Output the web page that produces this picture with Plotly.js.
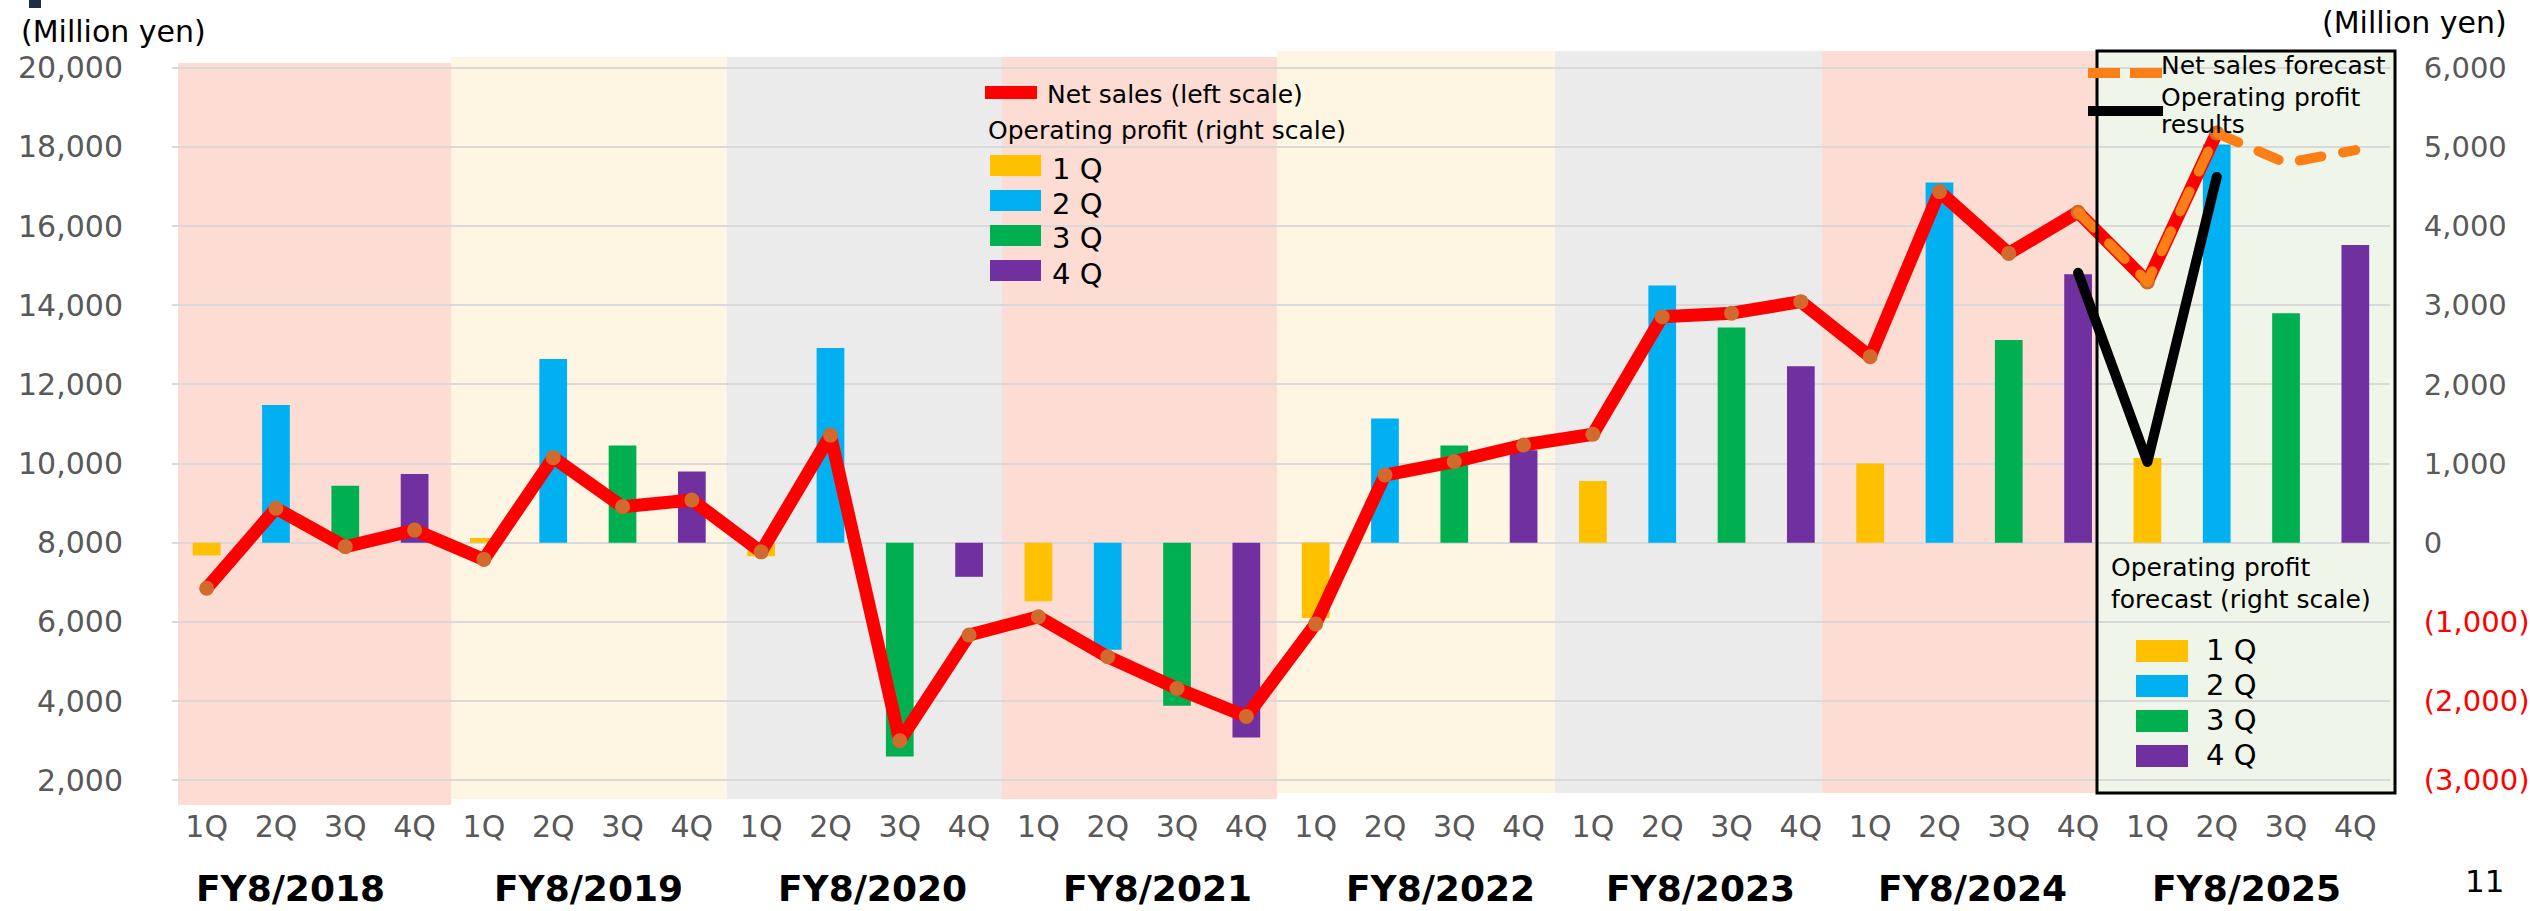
<!DOCTYPE html>
<html>
<head>
<meta charset="utf-8">
<script src="https://cdn.plot.ly/plotly-3.0.1.min.js"></script>
<style>
html,body{margin:0;padding:0;background:#ffffff;}
#chart{width:2530px;height:911px;}
.scatterlayer .js-line{stroke-linecap:round;stroke-linejoin:round;}
</style>
</head>
<body>
<div id="chart"></div>
<script>
// ---------------- DATA ----------------
const quarters = ['1Q', '2Q', '3Q', '4Q'];
const fiscalYears = ['FY8/2018', 'FY8/2019', 'FY8/2020', 'FY8/2021', 'FY8/2022', 'FY8/2023', 'FY8/2024', 'FY8/2025'];

// Net sales (left scale), FY8/2018 1Q ... FY8/2025 2Q (million yen)
const netSales = [
  6850, 8870, 7900, 8320,
  7580, 10150, 8910, 9080,
  7770, 10720, 3000, 5670,
  6130, 5120, 4320, 3610,
  5950, 9710, 10050, 10470,
  10740, 13710, 13800, 14090,
  12700, 16870, 15310, 16350,
  14590, 18350
];

// Net sales forecast, FY8/2024 4Q ... FY8/2025 4Q
const netSalesForecast = [16350, 14590, 18350, 17590, 17920];

// Operating profit results line, FY8/2024 4Q ... FY8/2025 2Q
const opProfitResults = [3410, 1020, 4620];

// Operating profit by quarter (right scale), FY8/2018 ... FY8/2025 (FY8/2025 = forecast)
const opProfit1Q = [-160, 60, -170, -740, -950, 780, 1000, 1070];
const opProfit2Q = [1740, 2320, 2460, -1350, 1570, 3250, 4550, 5030];
const opProfit3Q = [720, 1230, -2700, -2060, 1230, 2720, 2560, 2900];
const opProfit4Q = [870, 900, -430, -2460, 1170, 2230, 3390, 3760];

const leftTickVals = [2000, 4000, 6000, 8000, 10000, 12000, 14000, 16000, 18000, 20000];
const rightTickVals = [-3000, -2000, -1000, 0, 1000, 2000, 3000, 4000, 5000, 6000];
const rightTickText = ['(3,000)', '(2,000)', '(1,000)', '0', '1,000', '2,000', '3,000', '4,000', '5,000', '6,000'];

// ---------------- STYLE / LAYOUT ----------------
const FONT = 'DejaVu Sans';
const qColors = ['#FFC000', '#00B0F0', '#00B050', '#7030A0'];
const opByQuarter = [opProfit1Q, opProfit2Q, opProfit3Q, opProfit4Q];

const ML = 172, MT = 40, PW = 2218, PH = 768;
const fx = px => (px - ML) / PW;           // pixel -> paper x
const fy = py => (MT + PH - py) / PH;      // pixel -> paper y

const catIndex = (yearIdx, q) => 4 * yearIdx + q;
const allCats = [];
fiscalYears.forEach((y, k) => quarters.forEach((q, j) => allCats.push(catIndex(k, j))));
const tickText = [];
fiscalYears.forEach(() => quarters.forEach(q => tickText.push(q)));

const traces = [];
opByQuarter.forEach((vals, q) => {
  traces.push({
    type: 'bar',
    name: quarters[q],
    x: fiscalYears.map((_, k) => catIndex(k, q)),
    y: vals,
    yaxis: 'y',
    width: 0.4,
    marker: {color: qColors[q], line: {width: 0}},
    hoverinfo: 'skip'
  });
});

const fcStart = catIndex(6, 3);
traces.push({
  type: 'scatter', mode: 'lines', name: 'Operating profit results',
  x: opProfitResults.map((_, i) => fcStart + i), y: opProfitResults, yaxis: 'y',
  line: {color: '#000000', width: 10}, hoverinfo: 'skip'
});
traces.push({
  type: 'scatter', mode: 'lines+markers', name: 'Net sales (left scale)',
  x: netSales.map((_, i) => i), y: netSales, yaxis: 'y2',
  line: {color: '#FF0000', width: 13},
  marker: {size: 15, color: '#D2692D', line: {width: 0}},
  hoverinfo: 'skip'
});
traces.push({
  type: 'scatter', mode: 'lines', name: 'Net sales forecast',
  x: netSalesForecast.map((_, i) => fcStart + i), y: netSalesForecast, yaxis: 'y2',
  line: {color: '#FA7F17', width: 10, dash: '22px,22px'},
  hoverinfo: 'skip'
});

// Background bands per fiscal year (pixel edges)
const bandEdges = [178, 451, 727, 1002, 1277, 1555, 1822, 2097, 2395];
const bandTops = [63, 57, 57, 57, 51, 51, 51, 51];
const bandBottoms = [805, 799, 799, 799, 793, 793, 793, 793];
const PINK = '#FCDCD3', CREAM = '#FEF6E3', GRAY = '#EBEBEB', GREEN = '#F0F5EA';
const bandColors = [PINK, CREAM, GRAY, PINK, CREAM, GRAY, PINK, GREEN];

const shapes = [];
bandColors.forEach((c, i) => {
  shapes.push({type: 'rect', xref: 'paper', yref: 'paper', layer: 'below',
    x0: fx(bandEdges[i]), x1: fx(bandEdges[i + 1]), y0: fy(bandBottoms[i]), y1: fy(bandTops[i]),
    fillcolor: c, line: {width: 0}});
});
// forecast box border
shapes.push({type: 'rect', xref: 'paper', yref: 'paper', layer: 'above',
  x0: fx(2097), x1: fx(2395), y0: fy(793), y1: fy(51),
  fillcolor: 'rgba(0,0,0,0)', line: {color: '#000000', width: 3}});
// small slide mark top-left
shapes.push({type: 'rect', xref: 'paper', yref: 'paper', layer: 'above',
  x0: fx(29), x1: fx(41), y0: fy(8), y1: fy(0), fillcolor: '#1F2D4D', line: {width: 0}});

// Legend 1 symbols
shapes.push({type: 'rect', xref: 'paper', yref: 'paper', layer: 'above',
  x0: fx(985), x1: fx(1037), y0: fy(99), y1: fy(86), fillcolor: '#FF0000', line: {width: 0}});
const leg1Tops = [155, 190, 225, 260];
leg1Tops.forEach((t, q) => {
  shapes.push({type: 'rect', xref: 'paper', yref: 'paper', layer: 'above',
    x0: fx(990), x1: fx(1041), y0: fy(t + 21), y1: fy(t), fillcolor: qColors[q], line: {width: 0}});
});
// Legend 2 symbols
shapes.push({type: 'line', xref: 'paper', yref: 'paper', layer: 'above',
  x0: fx(2088), x1: fx(2162), y0: fy(73), y1: fy(73), line: {color: '#FA7F17', width: 10, dash: '32px,10px'}});
shapes.push({type: 'line', xref: 'paper', yref: 'paper', layer: 'above',
  x0: fx(2088), x1: fx(2163), y0: fy(111), y1: fy(111), line: {color: '#000000', width: 10}});
// Legend 3 symbols
const leg3Tops = [640, 675, 710, 745];
leg3Tops.forEach((t, q) => {
  shapes.push({type: 'rect', xref: 'paper', yref: 'paper', layer: 'above',
    x0: fx(2136), x1: fx(2188), y0: fy(t + 22), y1: fy(t), fillcolor: qColors[q], line: {width: 0}});
});

const ann = [];
function txt(text, px, py, size, opts) {
  ann.push(Object.assign({
    text: text, xref: 'paper', yref: 'paper', x: fx(px), y: fy(py),
    xanchor: 'left', yanchor: 'middle', showarrow: false,
    font: {family: FONT, size: size, color: '#000000'}
  }, opts || {}));
}
txt('(Million yen)', 113, 32, 30, {xanchor: 'center'});
txt('(Million yen)', 2414, 22, 30, {xanchor: 'center'});
txt('Net sales (left scale)', 1045, 94, 25);
txt('Operating profit (right scale)', 986, 130, 25);
leg1Tops.forEach((t, q) => txt(quarters[q].replace('Q', ' Q'), 1050, t + 13.5, 29));
txt('Net sales forecast', 2159, 66, 25);
txt('Operating profit', 2159, 97.5, 25);
txt('results', 2159, 124, 25);
txt('Operating profit', 2109, 567, 25);
txt('forecast (right scale)', 2109, 599, 25);
leg3Tops.forEach((t, q) => txt(quarters[q].replace('Q', ' Q'), 2204, t + 10, 29));
const yearCenters = [290, 588, 872, 1157, 1440, 1700, 1972, 2246];
fiscalYears.forEach((y, k) => txt('<b>' + y + '</b>', yearCenters[k], 888.5, 36, {xanchor: 'center'}));
txt('11', 2484, 881, 31, {xanchor: 'center'});

const tickFont = {family: FONT, size: 30, color: '#595959'};

const layout = {
  width: 2530, height: 911, autosize: false,
  margin: {l: ML, r: 2530 - ML - PW, t: MT, b: 911 - MT - PH, pad: 0},
  paper_bgcolor: '#ffffff', plot_bgcolor: 'rgba(0,0,0,0)',
  showlegend: false, barmode: 'overlay',
  font: {family: FONT},
  xaxis: {
    range: [-0.5, 31.5], tickmode: 'array', tickvals: allCats, ticktext: tickText,
    anchor: 'free', position: 13 / PH,
    tickfont: tickFont, ticks: 'outside', ticklen: 5, tickcolor: 'rgba(0,0,0,0)',
    showgrid: false, zeroline: false, showline: false, fixedrange: true
  },
  yaxis: {
    side: 'right', range: [-3350, 6350],
    tickmode: 'array', tickvals: rightTickVals,
    ticktext: rightTickText.map((t, i) => rightTickVals[i] < 0 ? '<span style="color:#FF0000">' + t + '</span>' : t),
    tickfont: {family: FONT, size: 29, color: '#595959'}, ticks: 'outside', ticklen: 27, tickcolor: 'rgba(0,0,0,0)',
    showgrid: false, zeroline: false, showline: false, fixedrange: true
  },
  yaxis2: {
    side: 'left', overlaying: 'y', anchor: 'x', range: [1300, 20700],
    tickmode: 'array', tickvals: leftTickVals, ticktext: leftTickVals.map(v => v.toLocaleString('en-US')),
    tickfont: tickFont, ticks: 'outside', ticklen: 42, tickcolor: 'rgba(0,0,0,0)',
    showgrid: true, gridcolor: '#D9D9D9', gridwidth: 2,
    zeroline: false, showline: false, fixedrange: true
  },
  shapes: shapes,
  annotations: ann
};

Plotly.newPlot('chart', traces, layout, {displayModeBar: false, staticPlot: true});
</script>
</body>
</html>
